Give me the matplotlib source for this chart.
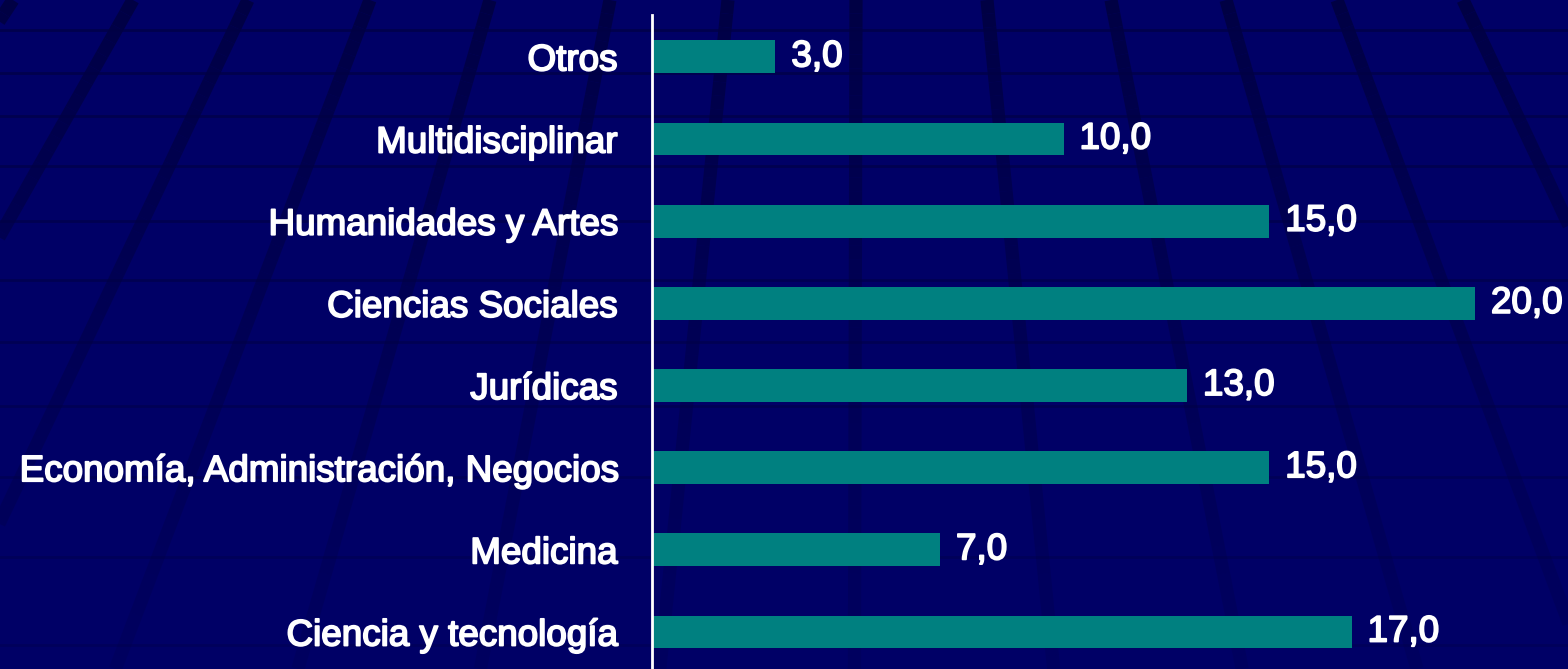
import matplotlib
matplotlib.use("Agg")
import matplotlib.pyplot as plt
from matplotlib import font_manager
import matplotlib.patheffects as pe
import numpy as np

categories = ["Ciencia y tecnología", "Medicina", "Economía, Administración, Negocios",
              "Jurídicas", "Ciencias Sociales", "Humanidades y Artes",
              "Multidisciplinar", "Otros"]
values = [17.0, 7.0, 15.0, 13.0, 20.0, 15.0, 10.0, 3.0]
value_labels = ["17,0", "7,0", "15,0", "13,0", "20,0", "15,0", "10,0", "3,0"]

BG = "#000066"
LINE = "#000044"
BAR = "#008080"
W, H = 1568, 669
FS = 26.5

fp = None
for f in font_manager.findSystemFonts():
    if f.endswith("LiberationSans-Regular.ttf"):
        fp = font_manager.FontProperties(fname=f, size=FS)
        break
if fp is None:
    fp = font_manager.FontProperties(family="DejaVu Sans", size=FS - 2)
thick = [pe.withStroke(linewidth=1.3, foreground="white")]

fig = plt.figure(figsize=(W / 100, H / 100), dpi=100, facecolor=BG)

# decorative perspective grid background
bg = fig.add_axes([0, 0, 1, 1], zorder=0)
bg.set_xlim(0, W)
bg.set_ylim(H, 0)
bg.set_facecolor(BG)
bg.axis("off")
xv, hv = 859.0, 1285.0
tops = [13, 133, 248, 370, 490, 610, 728, 856, 987, 1111, 1226, 1337, 1463, 1585]
ys = np.linspace(0, H, 50)
for x0 in tops:
    s = (x0 - xv) / hv
    for i in range(len(ys) - 1):
        y1, y2 = ys[i], ys[i + 1]
        a = 1 - 0.82 * (y1 / H) ** 0.7
        bg.plot([x0 + s * y1, x0 + s * y2], [y1, y2], color=LINE, lw=9.5,
                alpha=a, solid_capstyle="butt")
hlines = [30, 73, 116, 166, 221, 280, 342, 406, 477, 557, 645]
for y in hlines:
    a = 0.75 - 0.45 * (y / H)
    bg.axhline(y, color=LINE, lw=2.0, alpha=a)

# main chart
left = 652 / W
ax = fig.add_axes([left, 0, 1 - left, (H - 15) / H], zorder=1)
ax.patch.set_alpha(0)
y = np.arange(len(categories))
ax.barh(y, values, height=0.4, color=BAR)
ax.set_ylim(-0.45, 7.51)
ax.set_xlim(0, (W - 652) / 41.15)
ax.set_yticks(y)
ax.set_yticklabels(categories, color="white", fontproperties=fp)
for t in ax.get_yticklabels():
    t.set_path_effects(thick)
ax.tick_params(axis="y", length=0, pad=25)
ax.set_xticks([])
for sp in ["top", "right", "bottom"]:
    ax.spines[sp].set_visible(False)
ax.spines["left"].set_color("white")
ax.spines["left"].set_linewidth(2)
for yi, v, lab in zip(y, values, value_labels):
    ax.annotate(lab, (v, yi), xytext=(11.5, 0), textcoords="offset points",
                va="center", ha="left", color="white", fontproperties=fp,
                path_effects=thick)

fig.savefig("out.png", dpi=100, facecolor=BG)
